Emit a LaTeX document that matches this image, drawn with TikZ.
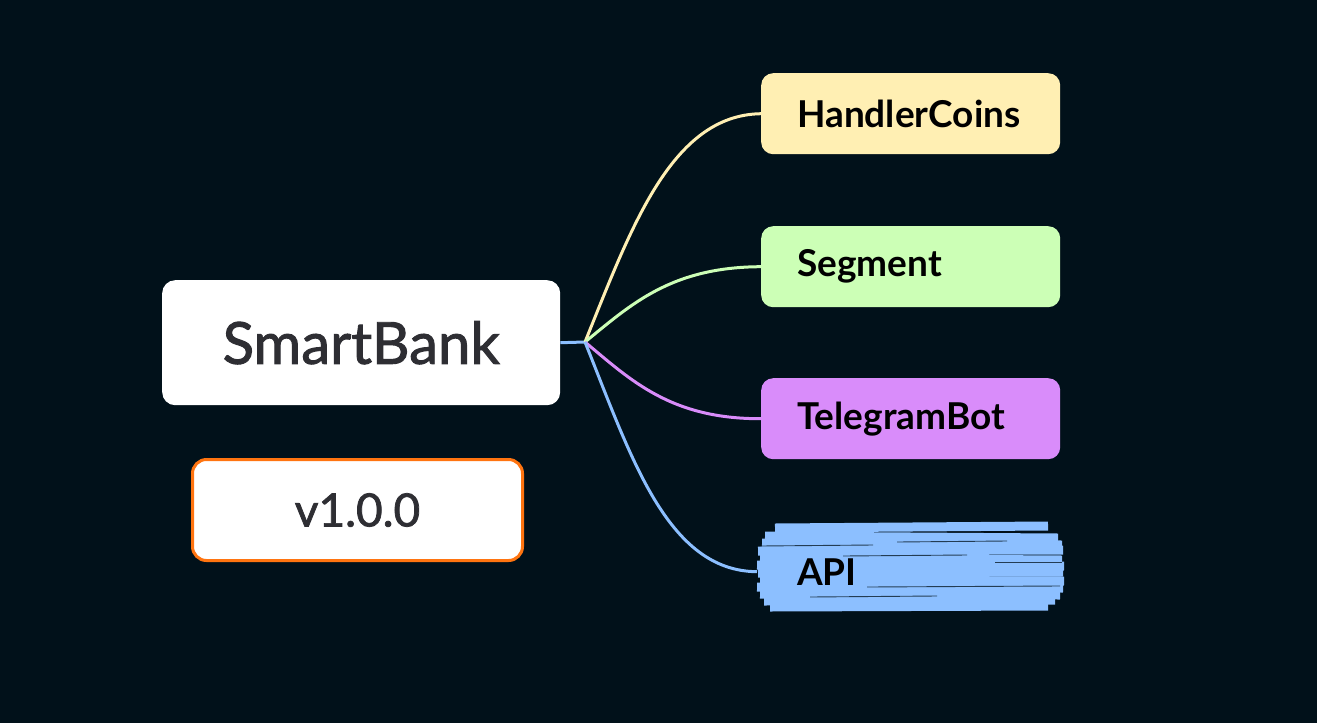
\documentclass[tikz,border=0pt]{standalone}
\usepackage{fontspec}
\setmainfont{Lato}
\newfontfamily\medfont{Lato}[FakeBold=1.6]
\definecolor{bg}{HTML}{01111A}
\definecolor{cyel}{HTML}{FFEFB3}
\definecolor{cgrn}{HTML}{CCFFB6}
\definecolor{cpur}{HTML}{D98CFA}
\definecolor{cblu}{HTML}{8CBFFF}
\definecolor{corg}{HTML}{FF7410}
\definecolor{tgray}{HTML}{2E2E33}
\begin{document}
\begin{tikzpicture}[x=1pt,y=-1pt,
  leaf/.style={rounded corners=12pt, minimum width=299pt, minimum height=81pt,
    anchor=north west, inner xsep=36pt, text width=227pt, align=left,
    font=\fontsize{37}{42}\selectfont\bfseries, text=black},
  conn/.style={line width=3pt},
  scrib/.style={cblu, line width=9pt},
  gap/.style={bg, line width=0.9pt, opacity=0.75}]
\fill[bg] (0,0) rectangle (1317,723);
\useasboundingbox (0,0) rectangle (1317,723);

% API scribble
\draw[scrib] (775,528)--(1048,526);
\draw[scrib] (765,536)--(1058,538);
\draw[scrib] (762,543)--(1062,545);
\draw[scrib] (758,551)--(1063,550);
\draw[scrib] (760,558)--(1062,560);
\draw[scrib] (757,565)--(1064,566);
\draw[scrib] (758,573)--(1063,572);
\draw[scrib] (760,580)--(1064,581);
\draw[scrib] (757,587)--(1063,588);
\draw[scrib] (760,594)--(1060,595);
\draw[scrib] (764,601)--(1055,600);
\draw[scrib] (770,607)--(1048,606);
\draw[gap] (897,542)--(1007,541);
\draw[gap] (760,546)--(873,545);
\draw[gap] (843,556)--(967,555);
\draw[gap] (995,562)--(1062,562);
\draw[gap] (867,587)--(1060,586);
\draw[gap] (810,597)--(937,596);

% nodes
\node[fill=white, rounded corners=13pt, minimum width=398pt, minimum height=125pt,
  anchor=north west, text=tgray, font=\fontsize{58}{64}\medfont] (sb) at (162,280) {SmartBank};
\node[fill=white, draw=corg, line width=3pt, rounded corners=14pt, minimum width=330pt,
  minimum height=101pt, text=tgray, font=\fontsize{46}{52}\medfont] (ver) at (357.5,510) {v1.0.0};
\node[leaf, fill=cyel] (hc) at (761,73) {HandlerCoins};
\node[leaf, fill=cgrn] (seg) at (761,226) {Segment};
\node[leaf, fill=cpur] (tg) at (761,378) {TelegramBot};
\node[leaf, minimum height=81pt] (api) at (761,531) {API};

% connectors
\coordinate (hub) at (585,342);
\draw[conn, cblu] (sb.east) -- (hub);
\draw[conn, cyel] (hub) .. controls (631,228.5) and (671,115) .. (hc.west);
\draw[conn, cgrn] (hub) .. controls (631,304.5) and (671,267) .. (seg.west);
\draw[conn, cpur] (hub) .. controls (631,380.5) and (671,419) .. (tg.west);
\draw[conn, cblu] (hub) .. controls (631,456.5) and (667,571) .. ([xshift=-4pt]api.west);
\end{tikzpicture}
\end{document}
